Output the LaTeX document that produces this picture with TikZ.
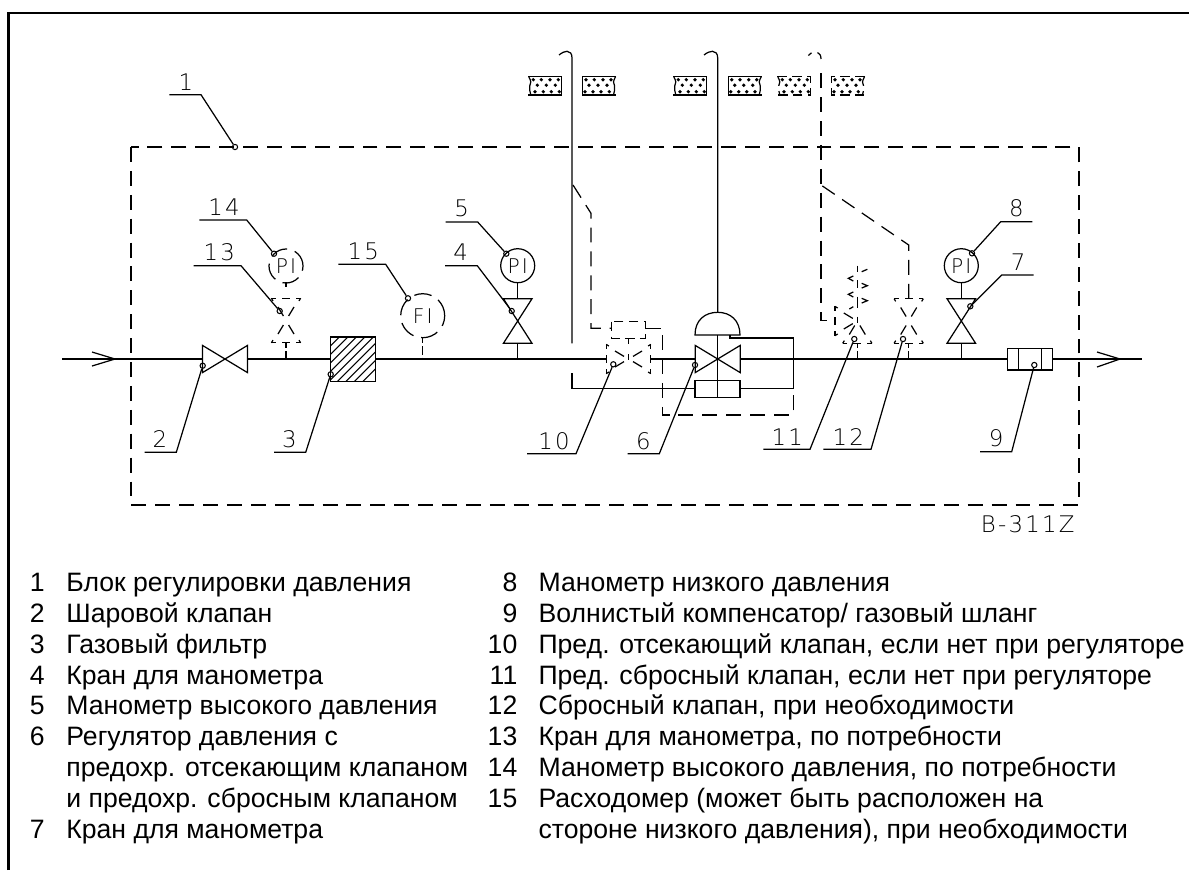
\documentclass[tikz,border=0pt]{standalone}
\usepackage{fontspec}
\setmainfont{Liberation Sans}
\newfontfamily\cadfont[LetterSpace=10]{DejaVu Sans ExtraLight}
\usetikzlibrary{calc}

\tikzset{
  frameline/.style={line width=1.2pt},
  pipe/.style={line width=0.7pt},
  boxdash/.style={line width=0.7pt,dash pattern=on 8.5pt off 5.1pt},
  smalldash/.style={line width=0.7pt,dash pattern=on 5.5pt off 3pt},
  stemdash/.style={line width=0.7pt,dash pattern=on 3pt off 1.6pt on 5pt off 1.6pt},
  ringdash/.style={dash pattern=on 10pt off 4.5pt},
  gauge/.style={circle,draw,line width=0.7pt,minimum size=0.68cm,inner sep=0pt,font=\cadfont\fontsize{11.5}{12}\selectfont},
  bubble/.style={circle,draw,line width=0.6pt,minimum size=3pt,inner sep=0pt},
  calloutnum/.style={font=\cadfont\fontsize{13}{14}\selectfont,inner sep=0pt},
  legend/.style={font=\fontsize{15.15}{18}\selectfont,inner sep=0pt},
}

% callout: name, text, tip, knee, free end, text position
\newcommand{\callout}[6]{
  \coordinate (#1end) at #5;
  \coordinate (#1knee) at #4;
  \node[bubble] (#1tip) at #3 {};
  \node[calloutnum] (#1lab) at #6 {#2};
  \draw[pipe] (#1end) -- (#1knee) -- (#1tip);
}
% solid valves, vertical and horizontal
\newcommand{\valvev}[1]{\draw[pipe,shift={(#1)}] (-14.3,-22.3) -- (14.3,22.3) -- (-14.3,22.3) -- (14.3,-22.3) -- cycle;}
\newcommand{\valveh}[1]{\draw[pipe,shift={(#1)}] (-22.5,-13.6) -- (22.5,13.6) -- (22.5,-13.6) -- (-22.5,13.6) -- cycle;}
% one half of a dashed valve, pointing down before the rotation
\newcommand{\halfvalve}[2]{
  \begin{scope}[shift={(#1)},rotate=#2]
    \foreach \sx in {-1,1} {
      \draw[pipe] (\sx*14.6,22.3) -- (\sx*10,22.3);
      \draw[pipe] (\sx*14.6,22.3) -- (\sx*13,19.6);
      \draw[pipe] (\sx*8,13.5) -- (\sx*2.6,4.5);
      \draw[pipe] (0,22.3) -- (\sx*4,22.3);
    }
  \end{scope}
}
% wall crossing block
\newcommand{\wallblock}[4]{
  \begin{scope}[shift={(#1,76.7)},xscale=#2]
    \draw[#3] (0,0) -- (33.3,0) -- (33.3,18.3) -- (0,18.3);
    \draw[#4] (0.5,0) .. controls (3,5) and (3,6) .. (1.5,9) .. controls (0.5,12) and (2,15) .. (2.5,18.3);
    \foreach \dx/\dy in {5/3,13/3,21.7/3,30/3,9/8.5,18/8.5,27/8.5,6.7/15,15/15,23/15,31/15}
      \fill (\dx,\dy) circle (1.05pt);
  \end{scope}
}

\begin{document}
\begin{tikzpicture}[x=0.02cm,y=-0.02cm]
\useasboundingbox (0,0) rectangle (1189,870);

% outer frame and unit border
\draw[frameline] (8.5,870) -- (8.5,13) -- (1189,13);
\draw[boxdash] (131,147) rectangle (1079,505);

% places on the main pipe
\coordinate (inlet) at (62,359);
\coordinate (outlet) at (1142,359);
\coordinate (ball) at (225,359);
\coordinate (shutoff) at (628.5,359);
\coordinate (regulator) at (717.7,359);
\coordinate (gaugetapa) at (286,320.5);
\coordinate (gaugetapb) at (517.7,321);
\coordinate (gaugetapc) at (961.3,321);
\coordinate (reliefa) at (857.3,321);
\coordinate (reliefb) at (908.7,321);

% main pipe
\draw[pipe] (inlet) -- (202.5,359);
\draw[pipe] (247.5,359) -- (330.7,359);
\draw[pipe] (375.7,359) -- (606,359);
\draw[pipe] (651,359) -- (695,359);
\draw[pipe] (740,359) -- (1007.7,359);
\draw[pipe] (1052.3,359) -- (outlet);
\draw[pipe] (92,352) -- (115,359) -- (92,366);
\draw[pipe] (1097,352) -- (1120,359) -- (1097,367);

% solid valves and gauges
\valveh{ball}
\valveh{regulator}
\valvev{gaugetapb}
\valvev{gaugetapc}
\node[gauge] (gaugehigh) at (517.7,265.7) {PI};
\node[gauge] (gaugelow) at (961.3,265.7) {PI};
\draw[pipe] (gaugehigh) -- (517.7,298.7);
\draw[pipe] (517.7,343.3) -- (517.7,359);
\draw[pipe] (gaugelow) -- (961.3,298.7);
\draw[pipe] (961.3,343.3) -- (961.3,359);

% filter
\begin{scope}
  \clip (330.7,337) rectangle (375.7,381.7);
  \foreach \d in {-36,-27.5,...,36}
    \draw[line width=0.6pt] (330.7+\d,381.7) -- ++(45,-45);
\end{scope}
\draw[pipe] (330.7,337) rectangle (375.7,381.7);

% compensator
\draw[pipe] (1007.7,348.7) rectangle (1052.3,370);
\draw[pipe] (1018.7,348.7) -- (1018.7,370);
\draw[pipe] (1041.3,348.7) -- (1041.3,370);

% regulator with its head and impulse lines
\draw[pipe] (695,335) .. controls (695,320) and (705,312.3) .. (717.7,312.3) .. controls (730,312.3) and (740,320) .. (740,335) -- cycle;
\draw[pipe] (695,380.7) rectangle (740,397.3);
\draw[pipe] (717.7,335) -- (717.7,380.7);
\draw[line width=0.4pt] (717.7,380.7) -- (717.7,397.3);
\draw[pipe] (704,55) .. controls (707,52.5) and (710,51.3) .. (712.5,51.3) .. controls (715.5,51.3) and (717.7,53.5) .. (717.7,58) -- (717.7,312.3);
\draw[pipe] (730,335) -- (730,338) -- (793.3,338) -- (793.3,388.7) -- (740,388.7);
\draw[pipe] (559,55) .. controls (562,52.5) and (565,51.3) .. (567,51.3) .. controls (570,51.3) and (572,53.5) .. (572,58) -- (572,343.3);
\draw[pipe] (572,373.3) -- (572,388.7) -- (695,388.7);

% dashed gauge and meter on the left
\node[gauge,ringdash] (gaugeopt) at (286,266) {PI};
\node[gauge,ringdash,minimum size=0.88cm] (meter) at (422.7,315.7) {FI};
\halfvalve{gaugetapa}{0}
\halfvalve{gaugetapa}{180}
\draw[stemdash] (286,343) -- (286,359);
\draw[pipe] (286,282) -- (286,287);
\draw[stemdash] (422.7,338) -- (422.7,359);

% shut-off valve and its dashed line
\halfvalve{shutoff}{90}
\halfvalve{shutoff}{-90}
\draw[smalldash] (611.7,321.7) rectangle (645.7,338.3);
\draw[pipe] (628.5,338.3) -- (628.5,343.5);
\draw[pipe] (628.5,354) -- (628.5,360);
\draw[boxdash] (573,185) -- (591,213.3) -- (591,328.3) -- (611.7,328.3);
\draw[boxdash] (645.7,328.3) -- (662.7,328.3) -- (662.7,415) -- (793.3,415) -- (793.3,388.7);

% relief valves and their dashed lines
\halfvalve{reliefa}{0}
\halfvalve{reliefa}{-90}
\halfvalve{reliefb}{0}
\halfvalve{reliefb}{180}
\draw[stemdash] (857.3,343) -- (857.3,359);
\draw[stemdash] (908.7,343) -- (908.7,359);
\draw[boxdash] (908.7,298.7) -- (908.7,245) -- (821,185);
\draw[pipe] (808.3,55.5) -- (811.5,52.8);
\draw[pipe] (817.5,52.5) .. controls (819.5,53.5) and (821,55) .. (821,59);
\draw[boxdash] (821,73.3) -- (821,320.7) -- (835.7,320.7);
% spring
\foreach \ya/\yb in {265.7/271.7,280/288.3,296.7/308.3,316.7/323.3}
  \draw[pipe] (857.3,\ya) -- (857.3,\yb);
\draw[pipe] (853.3,276) -- (848.3,278.3) -- (853.3,281);
\draw[pipe] (861.7,283.3) -- (867.3,285.7) -- (861.7,288);
\draw[pipe] (853.3,292) -- (848.3,294.3) -- (853.3,297);
\draw[pipe] (861.7,298.3) -- (867.3,300.7) -- (861.7,303);
\draw[pipe] (861.7,271.7) -- (867.3,269.3);
\draw[pipe] (849.3,309) -- (853.3,306.7);

% wall blocks
\wallblock{528.3}{1}{pipe}{pipe}
\wallblock{616}{-1}{pipe}{pipe}
\wallblock{673.3}{1}{pipe}{pipe}
\wallblock{761.7}{-1}{pipe}{pipe}
\wallblock{777.3}{1}{smalldash}{smalldash}
\wallblock{865}{-1}{smalldash}{smalldash}

% callouts
\callout{one}{1}{(235,147)}{(201,94.7)}{(169.3,94.7)}{(186,81.7)}
\callout{two}{2}{(202.7,365.7)}{(176.3,452.3)}{(144.7,452.3)}{(160,439)}
\callout{three}{3}{(330.7,374.3)}{(305.7,452.3)}{(274,452.3)}{(289.3,439)}
\callout{four}{4}{(511.7,311)}{(477.3,265.7)}{(445,265.7)}{(460.7,252.3)}
\callout{five}{5}{(506.3,253.7)}{(477.7,222)}{(445.7,222)}{(461.7,208.7)}
\callout{six}{6}{(695,365)}{(659.3,453.7)}{(627.7,453.7)}{(643.3,440.7)}
\callout{seven}{7}{(970.3,306.3)}{(1001.7,275)}{(1033.7,275)}{(1018,261.7)}
\callout{eight}{8}{(972,253.3)}{(1000.7,221.7)}{(1032.3,221.7)}{(1016.3,208.3)}
\callout{nine}{9}{(1034.3,365)}{(1011.7,451.7)}{(980,451.7)}{(996,438.3)}
\callout{ten}{10}{(613.3,364.3)}{(576,453.7)}{(527,453.7)}{(554,440.7)}
\callout{eleven}{11}{(854.3,339)}{(810,449.3)}{(763.3,449.3)}{(787.3,436.7)}
\callout{twelve}{12}{(903,339)}{(871,449.3)}{(823.3,449.3)}{(848.3,436.7)}
\callout{thirteen}{13}{(279.7,311)}{(241,265.7)}{(193.7,265.7)}{(219.3,252.3)}
\callout{fourteen}{14}{(274,253.7)}{(246.7,220)}{(199.3,220)}{(224,206.7)}
\callout{fifteen}{15}{(408,298.3)}{(385.7,264.3)}{(338.3,264.3)}{(363.3,251.3)}

\node[calloutnum,anchor=east] (drawingno) at (1075,524.5) {B-311Z};

% legend, left column
\foreach \k/\n/\t in {0/1/Блок регулировки давления,1/2/Шаровой клапан,2/3/Газовый фильтр,3/4/Кран для манометра,4/5/Манометр высокого давления,5/6/Регулятор давления с,6//предохр. отсекающим клапаном,7//и предохр. сбросным клапаном,8/7/Кран для манометра} {
  \node[legend,anchor=base east] (lnum\k) at (45,591.7+30.8*\k) {\n};
  \node[legend,anchor=base west] (ltxt\k) at (66,591.7+30.8*\k) {\t};
}
% legend, right column
\foreach \k/\n/\t in {0/8/Манометр низкого давления,1/9/{Волнистый компенсатор/ газовый шланг},2/10/{Пред. отсекающий клапан, если нет при регуляторе},3/11/{Пред. сбросный клапан, если нет при регуляторе},4/12/{Сбросный клапан, при необходимости},5/13/{Кран для манометра, по потребности},6/14/{Манометр высокого давления, по потребности},7/15/Расходомер (может быть расположен на,8//{стороне низкого давления), при необходимости}} {
  \node[legend,anchor=base east] (rnum\k) at (517.7,591.7+30.8*\k) {\n};
  \node[legend,anchor=base west] (rtxt\k) at (538.2,591.7+30.8*\k) {\t};
}
\end{tikzpicture}
\end{document}
